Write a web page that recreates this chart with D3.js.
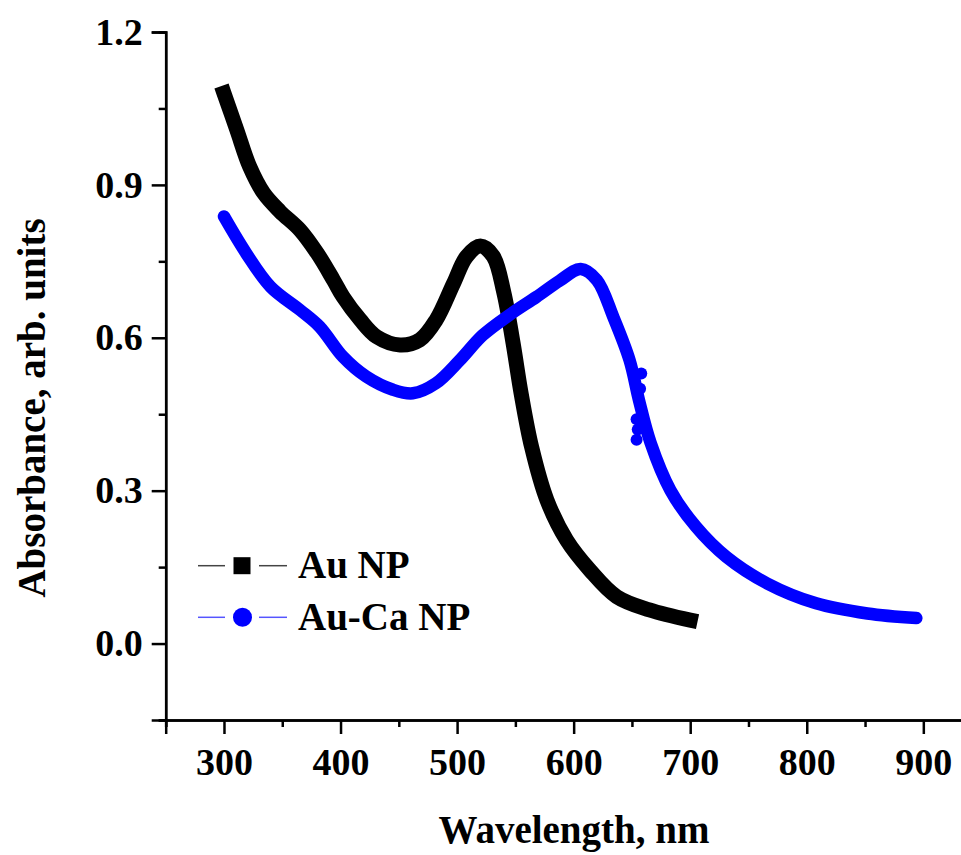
<html>
<head>
<script src="https://d3js.org/d3.v7.min.js"></script>
<style>
  body { margin: 0; background: #fff; }
  text { font-family: "Liberation Serif", "Times New Roman", serif; font-weight: bold; }
</style>
</head>
<body>
<svg width="961" height="855"></svg>
<script>
// Au NP (black)
const auWl  = [300, 311, 322, 334, 348, 365, 380, 394, 402, 417, 431, 451, 468, 482, 497, 508, 520, 531, 540, 548, 555, 564, 577, 594, 614, 637, 665, 700];
const auAbs = [1.08, 1.008, 0.936, 0.884, 0.848, 0.812, 0.766, 0.713, 0.681, 0.635, 0.602, 0.586, 0.596, 0.635, 0.707, 0.759, 0.78, 0.76, 0.69, 0.59, 0.49, 0.385, 0.282, 0.203, 0.144, 0.092, 0.066, 0.046];
// Au-Ca NP (blue)
const caWl  = [300, 319, 340, 365, 382, 402, 422, 445, 462, 482, 502, 522, 545, 568, 588, 606, 620, 634, 648, 656, 666, 683, 705, 731, 766, 808, 852, 894];
const caAbs = [0.838, 0.766, 0.70, 0.655, 0.622, 0.563, 0.524, 0.498, 0.491, 0.511, 0.555, 0.605, 0.645, 0.68, 0.712, 0.735, 0.713, 0.641, 0.556, 0.478, 0.394, 0.301, 0.229, 0.170, 0.118, 0.079, 0.059, 0.050];
// noisy points near 655 nm on the blue curve
const caJitWl  = [658, 657, 654, 654, 655];
const caJitAbs = [0.53, 0.50, 0.44, 0.40, 0.42];

const xTicks = [300, 400, 500, 600, 700, 800, 900];
const xMinor = [250, 350, 450, 550, 650, 750, 850, 950];
const yTicks = [0.0, 0.3, 0.6, 0.9, 1.2];
const yMinor = [-0.15, 0.15, 0.45, 0.75, 1.05];
const seriesNames = ["Au NP", "Au-Ca NP"];

const svg = d3.select("svg");
const x = d3.scaleLinear().domain([250, 950]).range([165.7, 981.6]);
const y = d3.scaleLinear().domain([-0.15, 1.2]).range([720, 32]);

const fs = 39;

// curves
const line = d3.line().x(d => x(d[0])).y(d => y(d[1])).curve(d3.curveCatmullRom);
const au = auWl.map((w, i) => [w, auAbs[i]]);
const ca = caWl.map((w, i) => [w, caAbs[i]]);

svg.append("path").datum(au).attr("d", line)
  .attr("fill", "none").attr("stroke", "#000").attr("stroke-width", 15)
  .attr("stroke-linecap", "square").attr("stroke-linejoin", "round");
svg.append("path").datum(ca).attr("d", line)
  .attr("fill", "none").attr("stroke", "#0000ff").attr("stroke-width", 12.5)
  .attr("stroke-linecap", "round").attr("stroke-linejoin", "round");
svg.selectAll(".jit").data(caJitWl).enter().append("circle")
  .attr("cx", d => x(d)).attr("cy", (d, i) => y(caJitAbs[i])).attr("r", 6)
  .attr("fill", "#0000ff");

// axes
const xAxis = svg.append("g").attr("transform", "translate(0,720)")
  .call(d3.axisBottom(x).tickValues(xTicks).tickSize(14).tickPadding(14).tickFormat(d3.format("d")));
svg.append("g").attr("transform", "translate(0,720)")
  .call(d3.axisBottom(x).tickValues(xMinor).tickSize(7).tickFormat(""));
const yAxis = svg.append("g").attr("transform", "translate(165.7,0)")
  .call(d3.axisLeft(y).tickValues(yTicks).tickSize(14).tickPadding(9).tickFormat(d3.format(".1f")));
svg.append("g").attr("transform", "translate(165.7,0)")
  .call(d3.axisLeft(y).tickValues(yMinor).tickSize(7).tickFormat(""));

svg.selectAll(".domain").attr("stroke", "#000").attr("stroke-width", 2.5);
svg.selectAll(".tick line").attr("stroke", "#000").attr("stroke-width", 2.5);
svg.selectAll(".tick text").attr("font-size", 38).attr("fill", "#000")
  .style("font-family", "Liberation Serif, serif").style("font-weight", "bold");

// axis titles
svg.append("text").attr("x", 574).attr("y", 843).attr("text-anchor", "middle")
  .attr("font-size", fs).text("Wavelength, nm");
svg.append("text").attr("transform", "translate(45,408) rotate(-90)").attr("text-anchor", "middle")
  .attr("font-size", fs).text("Absorbance, arb. units");

// legend
const leg = svg.append("g");
const legY = [565.7, 617.3];
leg.append("line").attr("x1", 198).attr("x2", 225).attr("y1", legY[0]).attr("y2", legY[0]).attr("stroke", "#444").attr("stroke-width", 1.5);
leg.append("line").attr("x1", 259).attr("x2", 287).attr("y1", legY[0]).attr("y2", legY[0]).attr("stroke", "#444").attr("stroke-width", 1.5);
leg.append("rect").attr("x", 233.5).attr("y", legY[0] - 8.5).attr("width", 17).attr("height", 17).attr("fill", "#000");
leg.append("line").attr("x1", 198).attr("x2", 225).attr("y1", legY[1]).attr("y2", legY[1]).attr("stroke", "#5555ff").attr("stroke-width", 1.5);
leg.append("line").attr("x1", 259).attr("x2", 287).attr("y1", legY[1]).attr("y2", legY[1]).attr("stroke", "#5555ff").attr("stroke-width", 1.5);
leg.append("circle").attr("cx", 242.5).attr("cy", legY[1]).attr("r", 9.5).attr("fill", "#0000ff");
leg.selectAll(".lt").data(seriesNames).enter().append("text")
  .attr("x", 298).attr("y", (d, i) => legY[i] + 12.5)
  .attr("font-size", fs).text(d => d);
</script>
</body>
</html>
